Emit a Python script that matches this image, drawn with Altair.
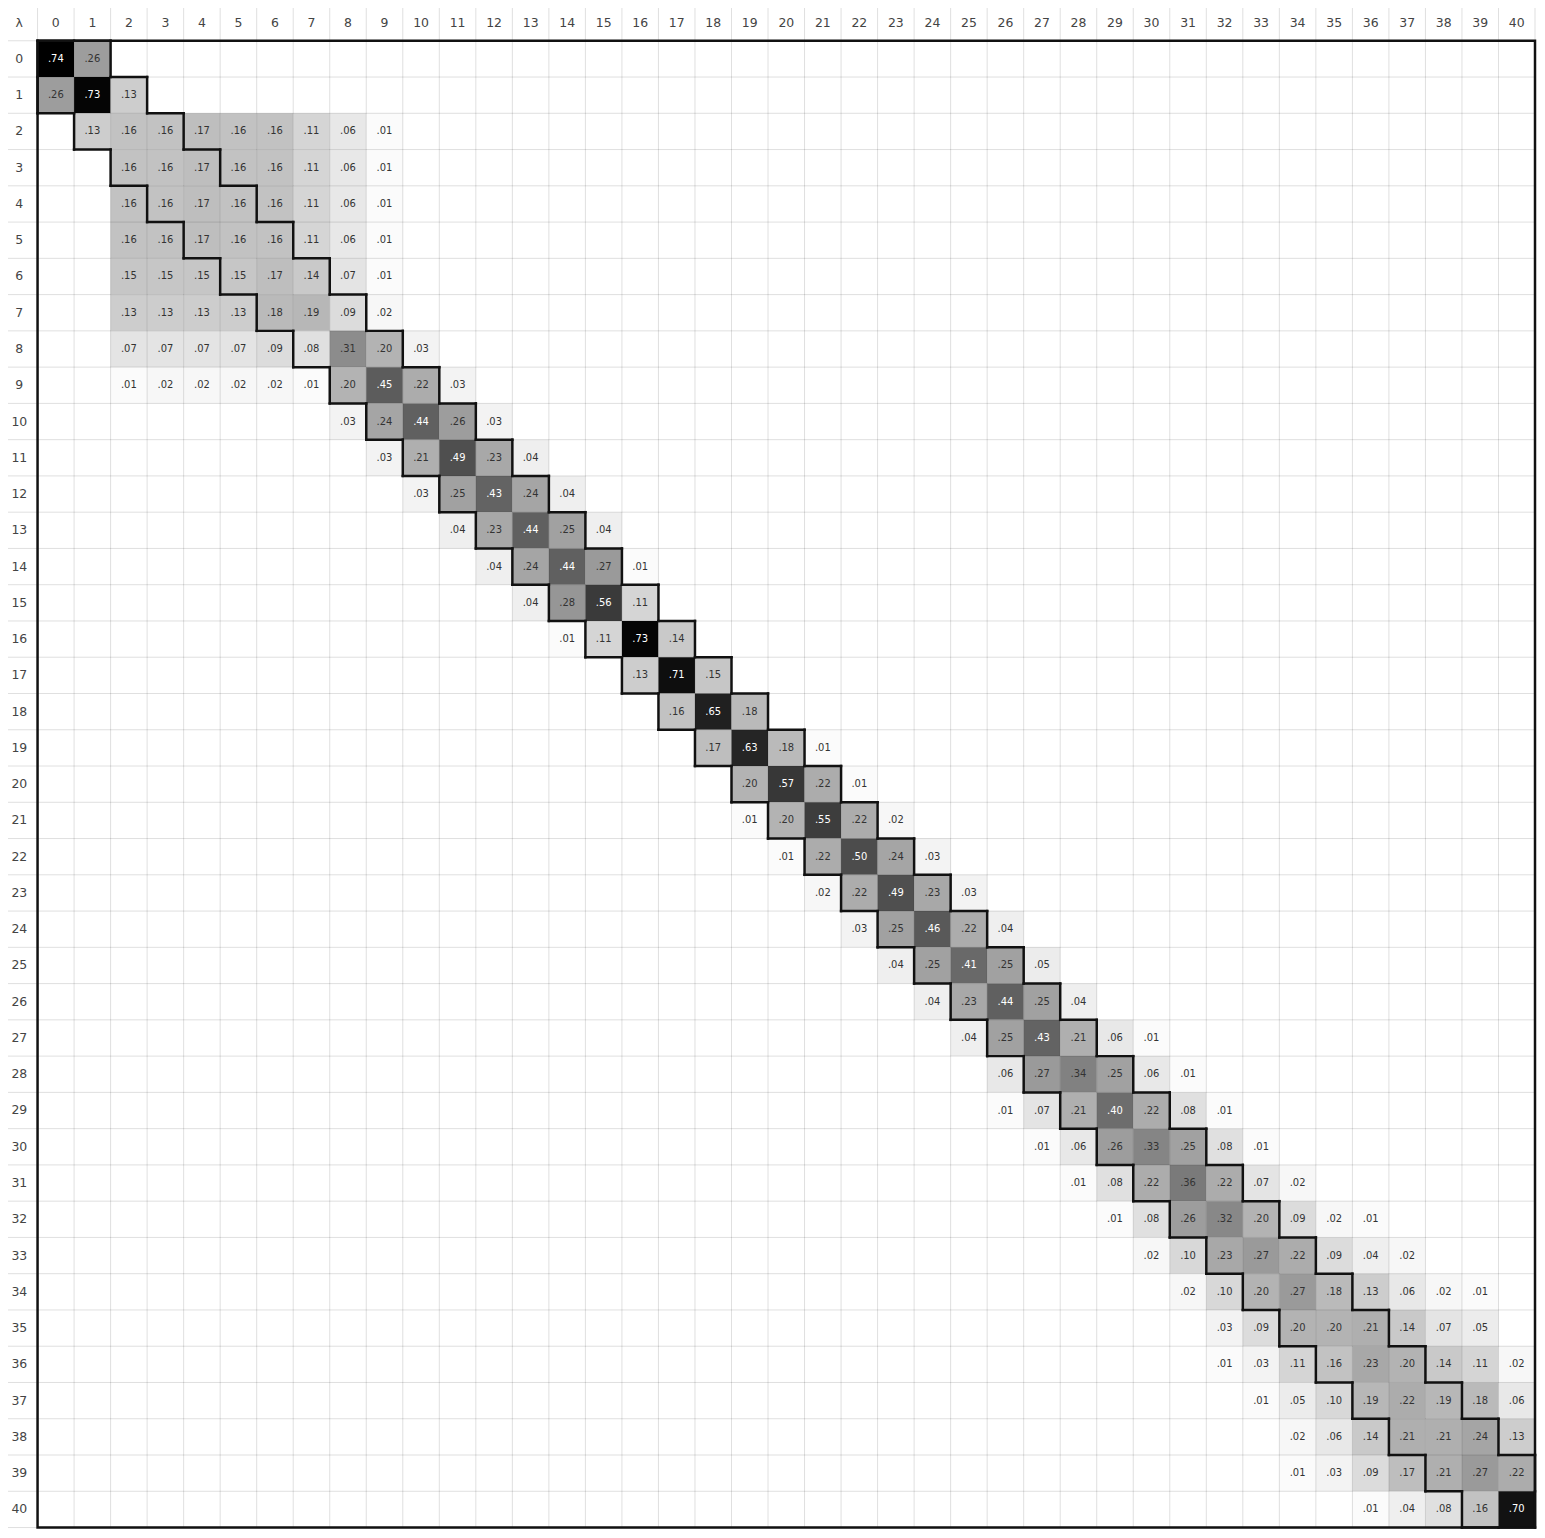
import altair as alt
import pandas as pd

N = 41

# first column that holds a value in each row
ROW_START = [0, 0, 1, 2, 2, 2, 2, 2, 2, 2, 8, 9, 10, 11, 12, 13, 14, 16, 17, 18,
             19, 19, 20, 21, 22, 23, 24, 25, 26, 26, 27, 28, 29, 30, 31, 32, 32, 33,
             34, 34, 36]

# the non-zero values of each row, read left to right
ROW_VALUES = [
    [.74, .26],
    [.26, .73, .13],
    [.13, .16, .16, .17, .16, .16, .11, .06, .01],
    [.16, .16, .17, .16, .16, .11, .06, .01],
    [.16, .16, .17, .16, .16, .11, .06, .01],
    [.16, .16, .17, .16, .16, .11, .06, .01],
    [.15, .15, .15, .15, .17, .14, .07, .01],
    [.13, .13, .13, .13, .18, .19, .09, .02],
    [.07, .07, .07, .07, .09, .08, .31, .20, .03],
    [.01, .02, .02, .02, .02, .01, .20, .45, .22, .03],
    [.03, .24, .44, .26, .03],
    [.03, .21, .49, .23, .04],
    [.03, .25, .43, .24, .04],
    [.04, .23, .44, .25, .04],
    [.04, .24, .44, .27, .01],
    [.04, .28, .56, .11],
    [.01, .11, .73, .14],
    [.13, .71, .15],
    [.16, .65, .18],
    [.17, .63, .18, .01],
    [.20, .57, .22, .01],
    [.01, .20, .55, .22, .02],
    [.01, .22, .50, .24, .03],
    [.02, .22, .49, .23, .03],
    [.03, .25, .46, .22, .04],
    [.04, .25, .41, .25, .05],
    [.04, .23, .44, .25, .04],
    [.04, .25, .43, .21, .06, .01],
    [.06, .27, .34, .25, .06, .01],
    [.01, .07, .21, .40, .22, .08, .01],
    [.01, .06, .26, .33, .25, .08, .01],
    [.01, .08, .22, .36, .22, .07, .02],
    [.01, .08, .26, .32, .20, .09, .02, .01],
    [.02, .10, .23, .27, .22, .09, .04, .02],
    [.02, .10, .20, .27, .18, .13, .06, .02, .01],
    [.03, .09, .20, .20, .21, .14, .07, .05],
    [.01, .03, .11, .16, .23, .20, .14, .11, .02],
    [.01, .05, .10, .19, .22, .19, .18, .06],
    [.02, .06, .14, .21, .21, .24, .13],
    [.01, .03, .09, .17, .21, .27, .22],
    [.01, .04, .08, .16, .70],
]

BAND = 1  # outlined cells: |row - col| <= BAND
CORNER_LABEL = "λ"
FONT = "DejaVu Sans"

cells = []
for i, (start, vals) in enumerate(zip(ROW_START, ROW_VALUES)):
    for k, v in enumerate(vals):
        j = start + k
        cells.append({"row": i, "col": j, "r2": i + 1, "c2": j + 1,
                      "xc": j + 0.5, "yc": i + 0.5, "v": v,
                      "label": f"{v:.2f}"[1:]})
cells = pd.DataFrame(cells)


def in_band(i, j):
    return 0 <= i < N and 0 <= j < N and abs(i - j) <= BAND


edges = []
for i in range(N):
    for j in range(N):
        if not in_band(i, j):
            continue
        if not in_band(i - 1, j):
            edges.append((j, i, j + 1, i))
        if not in_band(i + 1, j):
            edges.append((j, i + 1, j + 1, i + 1))
        if not in_band(i, j - 1):
            edges.append((j, i, j, i + 1))
        if not in_band(i, j + 1):
            edges.append((j + 1, i, j + 1, i + 1))
edges = pd.DataFrame(edges, columns=["x", "y", "x2", "y2"])

grid = pd.DataFrame(
    [{"x": k, "y": -1, "x2": k, "y2": N} for k in range(-1, N + 1)]
    + [{"x": -1, "y": k, "x2": N, "y2": k} for k in range(-1, N + 1)]
)

heads = pd.DataFrame(
    [{"x": j + 0.5, "y": -0.5, "t": str(j)} for j in range(N)]
    + [{"x": -0.5, "y": i + 0.5, "t": str(i)} for i in range(N)]
    + [{"x": -0.5, "y": -0.5, "t": CORNER_LABEL}]
)

frame = pd.DataFrame([{"x": 0, "y": 0, "x2": N, "y2": N}])

xs = alt.Scale(domain=[-1, N], nice=False, zero=False)
ys = alt.Scale(domain=[-1, N], nice=False, zero=False, reverse=True)

fills = alt.Chart(cells).mark_rect().encode(
    x=alt.X("col:Q", scale=xs, axis=None),
    x2="c2:Q",
    y=alt.Y("row:Q", scale=ys, axis=None),
    y2="r2:Q",
    color=alt.Color("v:Q", legend=None,
                    scale=alt.Scale(domain=[0, 0.74], range=["#ffffff", "#000000"],
                                    clamp=True)),
)

lines = alt.Chart(grid).mark_rule(color="#000000", opacity=0.13, strokeWidth=1).encode(
    x=alt.X("x:Q", scale=xs, axis=None), x2="x2:Q",
    y=alt.Y("y:Q", scale=ys, axis=None), y2="y2:Q",
)

texts = alt.Chart(cells).mark_text(font=FONT, fontSize=10).encode(
    x=alt.X("xc:Q", scale=xs, axis=None),
    y=alt.Y("yc:Q", scale=ys, axis=None),
    text="label:N",
    color=alt.condition("datum.v >= 0.4", alt.value("#ffffff"), alt.value("#333333")),
)

band = alt.Chart(edges).mark_rule(color="#111111", strokeWidth=2.5, strokeCap="square").encode(
    x=alt.X("x:Q", scale=xs, axis=None), x2="x2:Q",
    y=alt.Y("y:Q", scale=ys, axis=None), y2="y2:Q",
)

border = alt.Chart(frame).mark_rect(filled=False, stroke="#111111", strokeWidth=2.5).encode(
    x=alt.X("x:Q", scale=xs, axis=None), x2="x2:Q",
    y=alt.Y("y:Q", scale=ys, axis=None), y2="y2:Q",
)

labels = alt.Chart(heads).mark_text(font=FONT, fontSize=12.5, color="#444444").encode(
    x=alt.X("x:Q", scale=xs, axis=None),
    y=alt.Y("y:Q", scale=ys, axis=None),
    text="t:N",
)

# negative padding cancels the page margin so the grid starts at the corner
chart = (
    alt.layer(fills, lines, texts, band, border, labels)
    .properties(width=1541, height=1530,
                padding={"left": -8, "top": -8, "right": 0, "bottom": 0})
    .configure_view(stroke=None)
)

chart.save("out.html", embed_options={"renderer": "svg", "actions": False})
